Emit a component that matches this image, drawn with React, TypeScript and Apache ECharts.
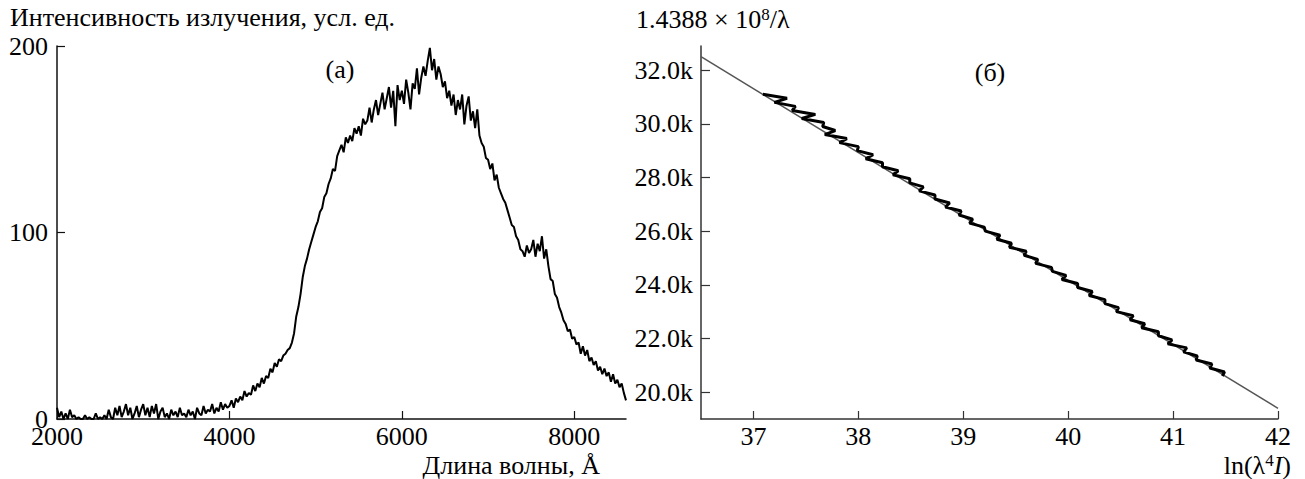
import React, { useEffect, useRef } from "react";
import * as echarts from "echarts";

// ---- Panel (а): emission spectrum ----
const WL_START = 2000; // Å, first sample
const WL_STEP = 25; // Å, sampling step
const intensity = [
  6, 1, 4, 0, 3, 0, 5, 1, 2, 0, 1, 0, 0, 2, 0, 1, 0, 0, 3, 0,
  1, 0, 2, 0, 5, 1, 0, 6, 2, 7, 1, 4, 8, 2, 6, 0, 3, 7, 1, 5,
  8, 2, 6, 1, 7, 3, 8, 0, 4, 6, 1, 3, 0, 5, 2, 4, 1, 6, 2, 3,
  1, 5, 2, 4, 0, 6, 3, 2, 7, 3, 5, 4, 8, 3, 6, 4, 9, 5, 8, 6,
  7, 10, 6, 11, 9, 12, 10, 15, 12, 14, 13, 18, 15, 19, 17, 22, 19, 23, 22, 27,
  25, 30, 28, 32, 31, 34, 35, 37, 38, 41, 46, 55, 60, 67, 76, 82, 86, 91, 95, 99,
  103, 106, 111, 113, 119, 121, 126, 129, 134, 133, 141, 144, 147, 143, 151, 148, 152, 149, 156, 153,
  157, 152, 161, 158, 160, 167, 159, 166, 171, 163, 169, 175, 166, 172, 178, 167, 176, 157, 179, 171,
  176, 169, 182, 175, 166, 180, 177, 188, 174, 183, 189, 184, 192, 199, 187, 193, 182, 189, 185, 178,
  181, 172, 176, 168, 174, 163, 171, 166, 174, 158, 168, 173, 160, 165, 156, 166, 152, 148, 146, 140,
  139, 134, 137, 128, 131, 124, 121, 118, 116, 112, 108, 104, 103, 98, 96, 91, 90, 87, 93, 89,
  91, 96, 87, 94, 90, 98, 86, 91, 82, 75, 74, 67, 65, 60, 57, 53, 51, 47, 48, 43,
  44, 40, 41, 35, 39, 34, 37, 31, 33, 29, 31, 26, 28, 24, 27, 23, 25, 20, 24, 19,
  21, 17, 19, 14, 10,
];
const xTicksA = [2000, 4000, 6000, 8000];
const yTicksA = [0, 100, 200];

// ---- Panel (б): 1.4388e8/λ vs ln(λ^4 I) ----
const lnL4I = [
  37.09, 37.32, 37.2, 37.4, 37.37, 37.59, 37.46, 37.67, 37.66, 37.78,
  37.68, 37.89, 37.82, 38.0, 37.99, 38.14, 38.07, 38.23, 38.23, 38.38,
  38.33, 38.49, 38.49, 38.62, 38.58, 38.73, 38.73, 38.87, 38.83, 38.98,
  38.96, 39.09, 39.06, 39.2, 39.21, 39.35, 39.32, 39.46, 39.44, 39.6,
  39.58, 39.71, 39.69, 39.84, 39.85, 39.98, 39.94, 40.09, 40.09, 40.23,
  40.2, 40.35, 40.35, 40.48, 40.46, 40.62, 40.59, 40.73, 40.7, 40.86,
  40.86, 40.99, 40.95, 41.13, 41.1, 41.23, 41.22, 41.37, 41.35, 41.49, 41.47,
];
const invLambda = [
  31100, 30950, 30800, 30650, 30500, 30350, 30200, 30050, 29900, 29750,
  29600, 29450, 29300, 29150, 29000, 28850, 28700, 28550, 28400, 28250,
  28100, 27950, 27800, 27650, 27500, 27350, 27200, 27050, 26900, 26750,
  26600, 26450, 26300, 26150, 26000, 25850, 25700, 25550, 25400, 25250,
  25100, 24950, 24800, 24650, 24500, 24350, 24200, 24050, 23900, 23750,
  23600, 23450, 23300, 23150, 23000, 22850, 22700, 22550, 22400, 22250,
  22100, 21950, 21800, 21650, 21500, 21350, 21200, 21050, 20900, 20750, 20600,
];
const fitX = [36.5, 42];
const fitY = [32500, 19400];
const xTicksB = [37, 38, 39, 40, 41, 42];
const yTicksB = [20000, 22000, 24000, 26000, 28000, 30000, 32000];

const FONT = "Liberation Serif";
const FS = 26;

function axisCommon(color: string) {
  return {
    axisLine: { show: true, lineStyle: { color, width: 1.5 } },
    splitLine: { show: false },
  };
}

export default function App() {
  const ref = useRef<HTMLDivElement>(null);
  useEffect(() => {
    if (!ref.current) return;
    const chart = echarts.init(ref.current, null, { renderer: "svg" });
    const spectrum = intensity.map((v, i) => [WL_START + i * WL_STEP, v]);
    const scatter = lnL4I.map((x, i) => [x, invLambda[i]]);
    const fit = fitX.map((x, i) => [x, fitY[i]]);
    const labelStyle = { color: "#000", fontSize: FS, fontFamily: FONT };
    chart.setOption({
      animation: false,
      textStyle: { fontFamily: FONT },
      grid: [
        { left: 57, top: 46, width: 569, height: 373 },
        { left: 701, top: 46, width: 577, height: 373 },
      ],
      xAxis: [
        {
          gridIndex: 0,
          type: "value",
          min: 2000,
          max: 8600,
          ...axisCommon("#111"),
          axisTick: { inside: true, length: 8, customValues: xTicksA, lineStyle: { color: "#111", width: 1.2 } },
          axisLabel: { ...labelStyle, margin: 4, customValues: xTicksA, formatter: (v: number) => String(v) },
        },
        {
          gridIndex: 1,
          type: "value",
          min: 36.5,
          max: 42,
          ...axisCommon("#333"),
          axisTick: { inside: true, length: 8, customValues: xTicksB, lineStyle: { color: "#333", width: 1.2 } },
          axisLabel: { ...labelStyle, margin: 4, customValues: xTicksB, formatter: (v: number) => String(v) },
        },
      ],
      yAxis: [
        {
          gridIndex: 0,
          type: "value",
          min: 0,
          max: 200,
          ...axisCommon("#111"),
          axisTick: { show: true, inside: true, length: 8, customValues: yTicksA, lineStyle: { color: "#111", width: 1.2 } },
          axisLabel: { ...labelStyle, margin: 9, customValues: yTicksA, formatter: (v: number) => String(v) },
        },
        {
          gridIndex: 1,
          type: "value",
          min: 19000,
          max: 32900,
          ...axisCommon("#333"),
          axisTick: { show: true, inside: true, length: 9, customValues: yTicksB, lineStyle: { color: "#333", width: 1.2 } },
          axisLabel: {
            ...labelStyle,
            margin: 8,
            customValues: yTicksB,
            formatter: (v: number) => (v / 1000).toFixed(1) + "k",
          },
        },
      ],
      series: [
        {
          type: "line",
          xAxisIndex: 0,
          yAxisIndex: 0,
          data: spectrum,
          symbol: "none",
          lineStyle: { color: "#000", width: 2 },
        },
        {
          type: "line",
          xAxisIndex: 1,
          yAxisIndex: 1,
          data: fit,
          symbol: "none",
          lineStyle: { color: "#555", width: 1.5 },
        },
        {
          type: "line",
          xAxisIndex: 1,
          yAxisIndex: 1,
          data: scatter,
          symbol: "none",
          lineStyle: { color: "#000", width: 3 },
        },
      ],
      graphic: [
        {
          type: "text",
          x: 10,
          y: 17,
          style: {
            text: "Интенсивность излучения, усл. ед.",
            fontSize: FS,
            fontFamily: FONT,
            fill: "#000",
            align: "left",
            verticalAlign: "middle",
          },
        },
        {
          type: "text",
          x: 340,
          y: 69,
          style: { text: "(а)", fontSize: FS, fontFamily: FONT, fill: "#000", align: "center", verticalAlign: "middle" },
        },
        {
          type: "text",
          x: 600,
          y: 465,
          style: {
            text: "Длина волны, Å",
            fontSize: FS,
            fontFamily: FONT,
            fill: "#000",
            align: "right",
            verticalAlign: "middle",
          },
        },
        {
          type: "text",
          x: 636,
          y: 19,
          style: {
            text: "1.4388 × 10{sup|8}/λ",
            fontSize: FS,
            fontFamily: FONT,
            fill: "#000",
            align: "left",
            verticalAlign: "middle",
            rich: {
              sup: { fontSize: 17, fontFamily: FONT, fill: "#000", verticalAlign: "top" },
            },
          },
        },
        {
          type: "text",
          x: 990,
          y: 72,
          style: { text: "(б)", fontSize: FS, fontFamily: FONT, fill: "#000", align: "center", verticalAlign: "middle" },
        },
        {
          type: "text",
          x: 1291,
          y: 465,
          style: {
            text: "ln(λ{sup|4}{it|I})",
            fontSize: FS,
            fontFamily: FONT,
            fill: "#000",
            align: "right",
            verticalAlign: "middle",
            rich: {
              sup: { fontSize: 17, fontFamily: FONT, fill: "#000", verticalAlign: "top" },
              it: { fontSize: FS, fontFamily: FONT, fontStyle: "italic", fill: "#000" },
            },
          },
        },
      ],
    });
    return () => chart.dispose();
  }, []);
  return (
    <div
      ref={ref}
      style={{ position: "fixed", left: 0, top: 0, width: 1305, height: 479, background: "#fff" }}
    />
  );
}
